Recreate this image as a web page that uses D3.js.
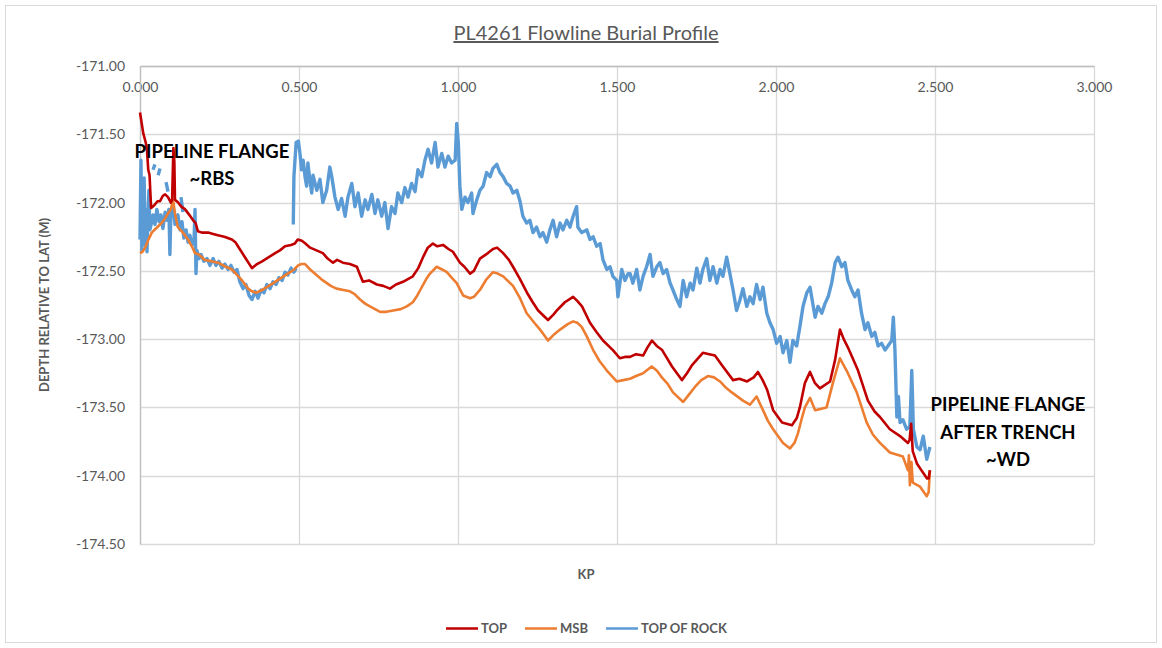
<!DOCTYPE html>
<html>
<head>
<meta charset="utf-8">
<script src="https://cdn.jsdelivr.net/npm/d3@7"></script>
<style>
  html, body { margin: 0; padding: 0; background: #ffffff; }
  svg { display: block; }
</style>
</head>
<body>
<svg id="chart" width="1162" height="648"></svg>
<script>
// Axis ticks
const xTicks = [0, 0.5, 1.0, 1.5, 2.0, 2.5, 3.0];
const yTicks = [-171.0, -171.5, -172.0, -172.5, -173.0, -173.5, -174.0, -174.5];

// TOP – [KP, depth relative to LAT (m)]
const topSeries = [
  [0, -171.34], [0.010, -171.49], [0.018, -171.56], [0.022, -171.62], [0.026, -171.76],
  [0.030, -171.80], [0.035, -172.04], [0.045, -172.02], [0.055, -171.99], [0.063, -171.99],
  [0.072, -171.95], [0.079, -171.94], [0.088, -171.96], [0.097, -172.00], [0.101, -171.98],
  [0.105, -171.60], [0.108, -171.70], [0.110, -171.98], [0.120, -172.00], [0.130, -172.03],
  [0.142, -172.05], [0.155, -172.09], [0.167, -172.13], [0.175, -172.15], [0.182, -172.21],
  [0.195, -172.22], [0.214, -172.22], [0.230, -172.23], [0.245, -172.24], [0.265, -172.25],
  [0.289, -172.27], [0.300, -172.29], [0.308, -172.32], [0.330, -172.40], [0.352, -172.48],
  [0.368, -172.45], [0.384, -172.43], [0.405, -172.40], [0.425, -172.37], [0.440, -172.35],
  [0.456, -172.32], [0.475, -172.31], [0.487, -172.30], [0.496, -172.27], [0.509, -172.28],
  [0.520, -172.30], [0.535, -172.33], [0.555, -172.35], [0.575, -172.37], [0.590, -172.41],
  [0.607, -172.44], [0.620, -172.42], [0.638, -172.44], [0.660, -172.45], [0.682, -172.47],
  [0.692, -172.53], [0.701, -172.58], [0.720, -172.57], [0.745, -172.60], [0.765, -172.61],
  [0.786, -172.63], [0.805, -172.60], [0.827, -172.58], [0.858, -172.54], [0.875, -172.48],
  [0.890, -172.40], [0.905, -172.33], [0.921, -172.30], [0.935, -172.32], [0.953, -172.31],
  [0.970, -172.34], [0.984, -172.36], [1.006, -172.44], [1.020, -172.47], [1.038, -172.52],
  [1.050, -172.50], [1.069, -172.41], [1.094, -172.37], [1.110, -172.34], [1.123, -172.33],
  [1.142, -172.37], [1.160, -172.42], [1.173, -172.47], [1.195, -172.56], [1.217, -172.66],
  [1.235, -172.73], [1.252, -172.79], [1.283, -172.86], [1.300, -172.82], [1.311, -172.79],
  [1.336, -172.73], [1.362, -172.69], [1.375, -172.72], [1.390, -172.76], [1.415, -172.88],
  [1.436, -172.95], [1.456, -173.01], [1.487, -173.08], [1.509, -173.14], [1.525, -173.13],
  [1.541, -173.13], [1.560, -173.11], [1.582, -173.12], [1.596, -173.06], [1.610, -173.01],
  [1.625, -173.05], [1.642, -173.08], [1.673, -173.20], [1.704, -173.30], [1.720, -173.25],
  [1.736, -173.19], [1.770, -173.10], [1.790, -173.11], [1.808, -173.12], [1.833, -173.20],
  [1.865, -173.30], [1.885, -173.29], [1.909, -173.31], [1.930, -173.28], [1.943, -173.24],
  [1.958, -173.30], [1.972, -173.37], [1.991, -173.52], [2.019, -173.61], [2.050, -173.63],
  [2.065, -173.58], [2.075, -173.50], [2.091, -173.32], [2.107, -173.24], [2.122, -173.32],
  [2.138, -173.36], [2.170, -173.31], [2.186, -173.15], [2.201, -172.93], [2.213, -173.00],
  [2.226, -173.06], [2.258, -173.23], [2.289, -173.45], [2.310, -173.53], [2.327, -173.57],
  [2.358, -173.66], [2.390, -173.71], [2.415, -173.76], [2.420, -173.74], [2.425, -173.62],
  [2.430, -173.82], [2.443, -173.91], [2.460, -173.97], [2.475, -174.02], [2.480, -174.02],
  [2.484, -173.96]
];

// MSB – [KP, depth relative to LAT (m)]
const msbSeries = [
  [0, -172.37], [0.008, -172.36], [0.016, -172.33], [0.025, -172.28], [0.037, -172.22],
  [0.050, -172.19], [0.068, -172.15], [0.078, -172.12], [0.088, -172.08], [0.097, -172.05],
  [0.104, -171.98], [0.110, -172.08], [0.119, -172.18], [0.135, -172.22], [0.151, -172.27],
  [0.165, -172.33], [0.173, -172.37], [0.185, -172.38], [0.204, -172.42], [0.225, -172.43],
  [0.245, -172.44], [0.270, -172.47], [0.289, -172.49], [0.305, -172.53], [0.321, -172.57],
  [0.340, -172.63], [0.352, -172.65], [0.365, -172.66], [0.384, -172.64], [0.405, -172.61],
  [0.425, -172.58], [0.445, -172.55], [0.465, -172.52], [0.485, -172.49], [0.497, -172.46],
  [0.508, -172.45], [0.519, -172.45], [0.535, -172.49], [0.555, -172.53], [0.575, -172.57],
  [0.600, -172.61], [0.618, -172.63], [0.640, -172.64], [0.660, -172.65], [0.675, -172.67],
  [0.692, -172.71], [0.708, -172.74], [0.723, -172.76], [0.755, -172.80], [0.775, -172.80],
  [0.796, -172.79], [0.820, -172.78], [0.839, -172.76], [0.858, -172.73], [0.872, -172.68],
  [0.886, -172.62], [0.900, -172.56], [0.912, -172.52], [0.933, -172.47], [0.950, -172.49],
  [0.965, -172.51], [0.980, -172.55], [0.996, -172.59], [1.016, -172.68], [1.038, -172.70],
  [1.050, -172.69], [1.069, -172.64], [1.090, -172.56], [1.110, -172.51], [1.125, -172.52],
  [1.142, -172.54], [1.173, -172.61], [1.195, -172.70], [1.216, -172.81], [1.240, -172.88],
  [1.258, -172.93], [1.283, -173.01], [1.300, -172.97], [1.321, -172.93], [1.345, -172.89],
  [1.362, -172.87], [1.375, -172.88], [1.389, -172.91], [1.405, -172.98], [1.425, -173.08],
  [1.445, -173.16], [1.468, -173.23], [1.499, -173.31], [1.520, -173.30], [1.541, -173.29],
  [1.560, -173.27], [1.582, -173.25], [1.609, -173.20], [1.625, -173.23], [1.641, -173.28],
  [1.660, -173.33], [1.676, -173.39], [1.708, -173.46], [1.725, -173.41], [1.745, -173.35],
  [1.765, -173.30], [1.786, -173.27], [1.805, -173.28], [1.824, -173.31], [1.840, -173.35],
  [1.861, -173.39], [1.896, -173.45], [1.918, -173.48], [1.939, -173.42], [1.959, -173.52],
  [1.975, -173.60], [1.991, -173.66], [2.022, -173.76], [2.044, -173.80], [2.058, -173.76],
  [2.069, -173.69], [2.080, -173.59], [2.091, -173.50], [2.107, -173.43], [2.123, -173.52],
  [2.159, -173.50], [2.179, -173.32], [2.201, -173.14], [2.222, -173.23], [2.254, -173.39],
  [2.285, -173.61], [2.305, -173.70], [2.327, -173.76], [2.358, -173.83], [2.399, -173.86],
  [2.415, -173.96], [2.418, -173.85], [2.421, -174.07], [2.426, -173.90], [2.430, -174.05],
  [2.453, -174.08], [2.474, -174.15], [2.480, -174.12], [2.484, -173.96]
];

// TOP OF ROCK – [KP, depth relative to LAT (m)]; null marks a break in the survey line
const rockSeries = [
  [0, -172.27], [0.003, -171.69], [0.006, -172.35], [0.009, -171.98], [0.013, -171.82],
  [0.016, -172.31], [0.019, -172.05], [0.022, -172.36], [0.025, -172.09], [0.028, -171.91],
  [0.031, -172.20], [0.035, -172.16], [0.041, -172.09], [0.047, -172.16], [0.053, -172.05],
  [0.060, -172.14], [0.066, -172.09], [0.072, -172.19], [0.079, -172.07], [0.085, -172.13],
  [0.091, -172.05], [0.094, -172.38], [0.097, -172.09], [0.104, -172.02], [0.110, -172.16],
  [0.119, -172.09], [0.126, -172.20], [0.132, -172.14], [0.138, -172.26], [0.145, -172.20],
  [0.151, -172.29], [0.157, -172.24], [0.164, -172.31], [0.170, -172.27], [0.173, -172.05],
  [0.176, -172.52], [0.179, -172.35], [0.186, -172.41], [0.192, -172.38], [0.201, -172.43],
  [0.211, -172.41], [0.220, -172.46], [0.230, -172.41], [0.239, -172.46], [0.248, -172.43],
  [0.258, -172.48], [0.267, -172.45], [0.277, -172.49], [0.286, -172.46], [0.296, -172.51],
  [0.305, -172.49], [0.314, -172.58], [0.324, -172.63], [0.333, -172.60], [0.343, -172.68],
  [0.352, -172.71], [0.362, -172.65], [0.371, -172.70], [0.381, -172.64], [0.390, -172.66],
  [0.399, -172.60], [0.409, -172.63], [0.418, -172.58], [0.428, -172.60], [0.437, -172.55],
  [0.447, -172.57], [0.456, -172.51], [0.465, -172.53], [0.475, -172.48], [0.484, -172.51],
  [0.491, -172.48],
  null,
  [0.041, -171.76], [0.047, -171.72],
  null,
  [0.057, -171.80], [0.063, -171.75],
  null,
  [0.082, -171.85], [0.088, -171.92],
  null,
  [0.129, -171.96], [0.135, -172.07],
  null,
  [0.482, -172.16], [0.484, -171.81], [0.491, -171.56], [0.498, -171.55], [0.503, -171.64],
  [0.508, -171.76], [0.513, -171.69], [0.519, -171.81], [0.524, -171.88], [0.528, -171.71],
  [0.535, -171.85], [0.540, -171.93], [0.544, -171.80], [0.556, -171.91], [0.566, -171.83],
  [0.575, -172.00], [0.587, -171.91], [0.597, -171.74], [0.603, -171.81], [0.613, -171.96],
  [0.623, -172.05], [0.634, -171.97], [0.645, -172.10], [0.654, -171.96], [0.666, -171.86],
  [0.676, -172.03], [0.686, -171.93], [0.697, -172.10], [0.708, -171.98], [0.717, -172.05],
  [0.729, -171.94], [0.739, -172.08], [0.748, -171.98], [0.760, -172.10], [0.770, -172.00],
  [0.780, -172.19], [0.791, -172.03], [0.802, -172.08], [0.811, -171.93], [0.823, -172.00],
  [0.833, -171.89], [0.843, -171.96], [0.854, -171.86], [0.865, -171.92], [0.874, -171.76],
  [0.886, -171.81], [0.896, -171.69], [0.906, -171.61], [0.917, -171.71], [0.928, -171.56],
  [0.937, -171.74], [0.949, -171.64], [0.959, -171.74], [0.969, -171.66], [0.980, -171.71],
  [0.991, -171.69], [0.996, -171.42], [1.001, -171.56], [1.006, -171.88], [1.012, -172.05],
  [1.022, -171.96], [1.031, -172.00], [1.043, -171.93], [1.047, -172.08], [1.059, -171.98],
  [1.069, -171.91], [1.079, -171.88], [1.090, -171.78], [1.101, -171.81], [1.110, -171.75],
  [1.122, -171.72], [1.132, -171.78], [1.142, -171.81], [1.153, -171.86], [1.164, -171.88],
  [1.173, -171.93], [1.185, -171.91], [1.195, -171.99], [1.204, -172.10], [1.216, -172.15],
  [1.226, -172.13], [1.236, -172.22], [1.247, -172.18], [1.258, -172.25], [1.267, -172.22],
  [1.279, -172.29], [1.289, -172.20], [1.299, -172.13], [1.310, -172.25], [1.321, -172.15],
  [1.330, -172.20], [1.342, -172.13], [1.352, -172.18], [1.362, -172.10], [1.373, -172.03],
  [1.377, -172.18], [1.389, -172.22], [1.405, -172.20], [1.415, -172.27], [1.425, -172.25],
  [1.436, -172.32], [1.447, -172.30], [1.456, -172.42], [1.468, -172.49], [1.478, -172.47],
  [1.487, -172.54], [1.499, -172.57], [1.503, -172.69], [1.515, -172.49], [1.525, -172.57],
  [1.535, -172.52], [1.541, -172.52], [1.550, -172.59], [1.562, -172.49], [1.572, -172.64],
  [1.582, -172.54], [1.593, -172.47], [1.604, -172.38], [1.613, -172.54], [1.625, -172.47],
  [1.635, -172.44], [1.645, -172.52], [1.656, -172.49], [1.667, -172.59], [1.676, -172.64],
  [1.688, -172.71], [1.698, -172.76], [1.708, -172.57], [1.719, -172.69], [1.730, -172.59],
  [1.739, -172.64], [1.751, -172.48], [1.761, -172.59], [1.770, -172.49], [1.782, -172.41],
  [1.792, -172.57], [1.802, -172.47], [1.814, -172.59], [1.824, -172.49], [1.833, -172.54],
  [1.845, -172.40], [1.855, -172.52], [1.865, -172.64], [1.876, -172.79], [1.887, -172.71],
  [1.896, -172.63], [1.908, -172.76], [1.918, -172.69], [1.928, -172.74], [1.939, -172.60],
  [1.950, -172.71], [1.959, -172.62], [1.971, -172.81], [1.981, -172.88], [1.991, -172.93],
  [2.002, -173.03], [2.013, -172.98], [2.022, -173.10], [2.034, -173.01], [2.044, -173.17],
  [2.053, -173.01], [2.065, -173.05], [2.075, -172.91], [2.085, -172.76], [2.097, -172.66],
  [2.107, -172.62], [2.112, -172.69], [2.123, -172.84], [2.132, -172.76], [2.144, -172.81],
  [2.154, -172.74], [2.164, -172.69], [2.175, -172.59], [2.186, -172.44], [2.195, -172.40],
  [2.207, -172.47], [2.217, -172.44], [2.226, -172.57], [2.238, -172.64], [2.248, -172.69],
  [2.258, -172.64], [2.269, -172.81], [2.280, -172.93], [2.289, -172.88], [2.301, -172.98],
  [2.311, -172.95], [2.321, -173.05], [2.332, -173.03], [2.343, -173.08], [2.352, -173.05],
  [2.364, -173.01], [2.369, -172.84], [2.374, -173.08], [2.380, -173.57], [2.385, -173.42],
  [2.390, -173.61], [2.399, -173.59], [2.411, -173.66], [2.421, -173.64], [2.427, -173.23],
  [2.432, -173.66], [2.443, -173.79], [2.453, -173.81], [2.463, -173.71], [2.474, -173.88],
  [2.484, -173.79]
];

const seriesNames = ["TOP", "MSB", "TOP OF ROCK"];
const seriesColors = ["#C00000", "#ED7D31", "#5B9BD5"];
const seriesWidths = [2.6, 2.6, 3.4];

const FONT = "Lato, 'Open Sans', sans-serif";
const TEXT_GREY = "#595959";

const svg = d3.select("#chart");
const W = 1162, H = 648;

// outer chart frame
svg.append("rect")
  .attr("x", 5.5).attr("y", 5.5).attr("width", W - 11).attr("height", H - 11)
  .attr("fill", "#ffffff").attr("stroke", "#d9d9d9").attr("stroke-width", 1);

const x = d3.scaleLinear().domain([0, 3]).range([140, 1094]);
const y = d3.scaleLinear().domain([-171, -174.5]).range([66, 544]);

// plain hyphen for negative numbers, as on the printed axis
const hyphen = f => d => f(d).replace("\u2212", "-");

// gridlines
const grid = svg.append("g");
grid.selectAll(".hgrid").data(yTicks).join("line")
  .attr("x1", x(0)).attr("x2", x(3))
  .attr("y1", d => Math.round(y(d)) + 0.5).attr("y2", d => Math.round(y(d)) + 0.5)
  .attr("stroke", "#d9d9d9").attr("stroke-width", 1.3);
grid.selectAll(".vgrid").data(xTicks).join("line")
  .attr("x1", d => Math.round(x(d)) + 0.5).attr("x2", d => Math.round(x(d)) + 0.5)
  .attr("y1", y(-171)).attr("y2", y(-174.5))
  .attr("stroke", "#d9d9d9").attr("stroke-width", 1.3);

// axes
const xAxis = d3.axisBottom(x).tickValues(xTicks).tickFormat(d3.format(".3f"))
  .tickSize(0).tickPadding(16);
const gx = svg.append("g").attr("transform", `translate(0,${y(-171)})`).call(xAxis);
gx.select(".domain").attr("stroke", "#bfbfbf").attr("stroke-width", 1.3);
gx.selectAll("text").attr("font-family", FONT).attr("font-size", 14).attr("fill", TEXT_GREY);

const yAxis = d3.axisLeft(y).tickValues(yTicks).tickFormat(hyphen(d3.format(".2f")))
  .tickSize(0).tickPadding(15);
const gy = svg.append("g").attr("transform", `translate(${x(0)},0)`).call(yAxis);
gy.select(".domain").attr("stroke", "#bfbfbf").attr("stroke-width", 1.3);
gy.selectAll("text").attr("font-family", FONT).attr("font-size", 14).attr("fill", TEXT_GREY);

// series lines
const line = d3.line()
  .defined(d => d !== null)
  .x(d => x(d[0]))
  .y(d => y(d[1]));

const plotG = svg.append("g");
// rock first, then MSB, then TOP on top
[[rockSeries, 2], [msbSeries, 1], [topSeries, 0]].forEach(([s, i]) => {
  plotG.append("path")
    .datum(s)
    .attr("fill", "none")
    .attr("stroke", seriesColors[i])
    .attr("stroke-width", seriesWidths[i])
    .attr("stroke-linejoin", "round")
    .attr("stroke-linecap", "butt")
    .attr("d", line);
});

// title
svg.append("text")
  .attr("x", 586).attr("y", 40)
  .attr("text-anchor", "middle")
  .attr("font-family", FONT).attr("font-size", 20)
  .attr("fill", TEXT_GREY)
  .attr("text-decoration", "underline")
  .text("PL4261 Flowline Burial Profile");

// axis titles
svg.append("text")
  .attr("x", 586).attr("y", 579)
  .attr("text-anchor", "middle")
  .attr("font-family", FONT).attr("font-size", 13).attr("font-weight", "bold")
  .attr("fill", TEXT_GREY)
  .text("KP");

svg.append("text")
  .attr("transform", "translate(49,305) rotate(-90)")
  .attr("text-anchor", "middle")
  .attr("font-family", FONT).attr("font-size", 13).attr("font-weight", "bold")
  .attr("fill", TEXT_GREY)
  .text("DEPTH RELATIVE TO LAT (M)");

// annotations
const annLeft = ["PIPELINE FLANGE", "~RBS"];
const annRight = ["PIPELINE FLANGE", "AFTER TRENCH", "~WD"];
svg.append("text")
  .attr("text-anchor", "middle")
  .attr("font-family", FONT).attr("font-size", 18.5).attr("font-weight", "bold")
  .attr("fill", "#000000")
  .selectAll("tspan").data(annLeft).join("tspan")
  .attr("x", 212).attr("y", (d, i) => 158 + i * 27)
  .text(d => d);
svg.append("text")
  .attr("text-anchor", "middle")
  .attr("font-family", FONT).attr("font-size", 18.5).attr("font-weight", "bold")
  .attr("fill", "#000000")
  .selectAll("tspan").data(annRight).join("tspan")
  .attr("x", 1008).attr("y", (d, i) => 411 + i * 27.5)
  .text(d => d);

// legend
const legendX = [446, 525, 606];
const lg = svg.append("g");
seriesNames.forEach((name, i) => {
  lg.append("line")
    .attr("x1", legendX[i]).attr("x2", legendX[i] + 32)
    .attr("y1", 628.5).attr("y2", 628.5)
    .attr("stroke", seriesColors[i]).attr("stroke-width", 2.5);
  lg.append("text")
    .attr("x", legendX[i] + 35).attr("y", 633)
    .attr("font-family", FONT).attr("font-size", 13).attr("font-weight", "bold")
    .attr("fill", TEXT_GREY)
    .text(name);
});
</script>
</body>
</html>
